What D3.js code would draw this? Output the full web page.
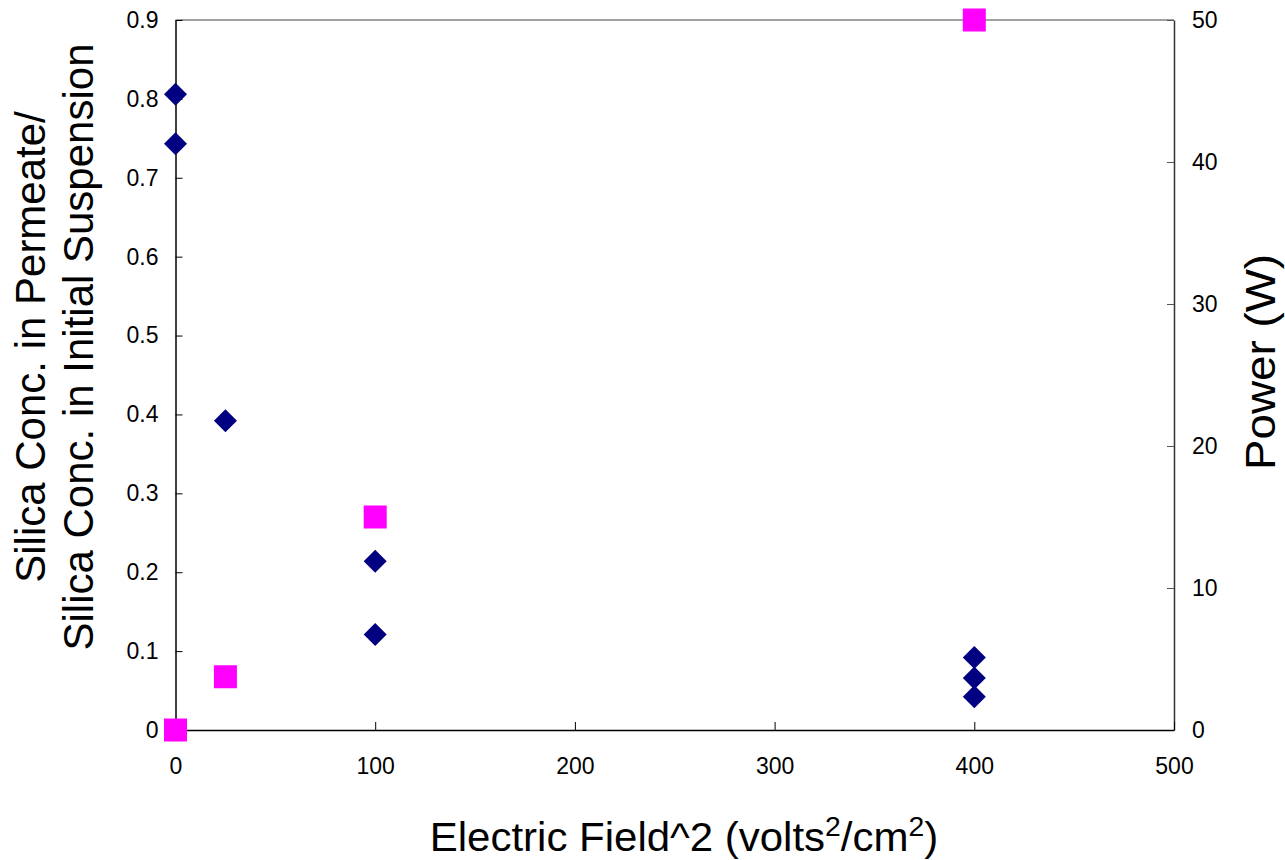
<!DOCTYPE html>
<html>
<head>
<meta charset="utf-8">
<script src="https://cdn.jsdelivr.net/npm/d3@7"></script>
<style>
  body { margin: 0; background: #fff; }
  svg { display: block; font-family: "Liberation Sans", Arial, sans-serif; }
</style>
</head>
<body>
<svg id="chart" width="1285" height="860"></svg>
<script>
// Data
const ratioX = [0, 0, 25, 100, 100, 400, 400, 400];
const ratioY = [0.806, 0.743, 0.392, 0.214, 0.121, 0.092, 0.066, 0.042];
const powerX = [0, 25, 100, 400];
const powerY = [0, 3.75, 15, 50];
const xTicks = [0, 100, 200, 300, 400, 500];
const yLeftTicks = [0, 0.1, 0.2, 0.3, 0.4, 0.5, 0.6, 0.7, 0.8, 0.9];
const yRightTicks = [0, 10, 20, 30, 40, 50];

const svg = d3.select("#chart");
const L = 175.5, R = 1174, T = 20, B = 730;

const x = d3.scaleLinear().domain([0, 500]).range([L, R]);
const yL = d3.scaleLinear().domain([0, 0.9]).range([B, T]);
const yR = d3.scaleLinear().domain([0, 50]).range([B, T]);

// top border (gray)
svg.append("line").attr("x1", L).attr("x2", R).attr("y1", T).attr("y2", T)
  .attr("stroke", "#808080").attr("stroke-width", 1.5);

const fmtL = d => d === 0 ? "0" : d3.format(".1f")(d);

const gL = svg.append("g").attr("transform", `translate(${L},0)`)
  .call(d3.axisLeft(yL).tickValues(yLeftTicks).tickFormat(fmtL).tickSizeInner(-7).tickSizeOuter(0).tickPadding(17));
const gR = svg.append("g").attr("transform", `translate(${R},0)`)
  .call(d3.axisRight(yR).tickValues(yRightTicks).tickFormat(d3.format("d")).tickSizeInner(-7).tickSizeOuter(0).tickPadding(18));
const gB = svg.append("g").attr("transform", `translate(0,${B})`)
  .call(d3.axisBottom(x).tickValues(xTicks).tickFormat(d3.format("d")).tickSizeInner(-8).tickSizeOuter(0).tickPadding(28));

[gL, gR, gB].forEach(g => {
  g.selectAll("text").attr("font-size", 23).attr("fill", "#000")
    .attr("font-family", "'Liberation Sans', Arial, sans-serif");
});
gL.select(".domain").attr("stroke", "#000").attr("stroke-width", 1.5);
gB.select(".domain").attr("stroke", "#000").attr("stroke-width", 1.5);
gR.select(".domain").attr("stroke", "#333").attr("stroke-width", 1.5);
gL.selectAll(".tick line").attr("stroke", "#000");
gB.selectAll(".tick line").attr("stroke", "#000");
gR.selectAll(".tick line").attr("stroke", "#555");

// squares (power, right axis)
const sq = 23;
svg.append("g").selectAll("rect").data(powerX.map((d, i) => [d, powerY[i]])).join("rect")
  .attr("x", d => x(d[0]) - sq / 2).attr("y", d => yR(d[1]) - sq / 2)
  .attr("width", sq).attr("height", sq).attr("fill", "#FF00FF");

// diamonds (ratio, left axis)
const dm = 11.5;
svg.append("g").selectAll("path").data(ratioX.map((d, i) => [d, ratioY[i]])).join("path")
  .attr("d", d => {
    const cx = x(d[0]), cy = yL(d[1]);
    return `M${cx},${cy - dm}L${cx + dm},${cy}L${cx},${cy + dm}L${cx - dm},${cy}Z`;
  })
  .attr("fill", "#000080");

// axis titles
const yt = svg.append("text").attr("transform", "translate(0,347) rotate(-90)")
  .attr("text-anchor", "middle").attr("font-size", 42).attr("fill", "#000");
yt.append("tspan").attr("x", 0).attr("y", 45).text("Silica Conc. in Permeate/");
yt.append("tspan").attr("x", 0).attr("y", 93).text("Silica Conc. in Initial Suspension");

svg.append("text").attr("transform", "translate(1275,362) rotate(-90) scale(1.09,1)")
  .attr("text-anchor", "middle").attr("font-size", 42).attr("fill", "#000")
  .text("Power (W)");

const xt = svg.append("text").attr("transform", "translate(684,851) scale(1.05,1)")
  .attr("text-anchor", "middle").attr("font-size", 40).attr("fill", "#000");
xt.append("tspan").text("Electric Field^2 (volts");
xt.append("tspan").attr("font-size", 27).attr("dy", -15).text("2");
xt.append("tspan").attr("dy", 15).text("/cm");
xt.append("tspan").attr("font-size", 27).attr("dy", -15).text("2");
xt.append("tspan").attr("dy", 15).text(")");
</script>
</body>
</html>
